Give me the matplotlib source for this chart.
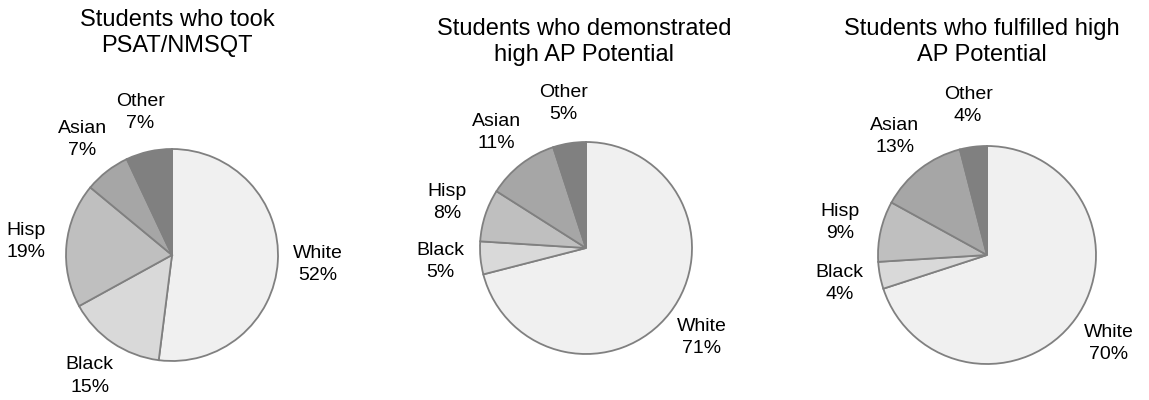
import matplotlib
matplotlib.use("Agg")
import matplotlib.pyplot as plt

plt.rcParams['font.family'] = ['Liberation Sans', 'DejaVu Sans']

categories = ["White", "Black", "Hisp", "Asian", "Other"]
psat = [52, 15, 19, 7, 7]
demonstrated = [71, 5, 8, 11, 5]
fulfilled = [70, 4, 9, 13, 4]
titles = ["Students who took\nPSAT/NMSQT",
          "Students who demonstrated\nhigh AP Potential",
          "Students who fulfilled high\nAP Potential"]
colors = ["#f0f0f0", "#d9d9d9", "#bfbfbf", "#a6a6a6", "#808080"]

W, H = 1149, 400
fig = plt.figure(figsize=(W / 100, H / 100), dpi=100)

# pixel geometry: (center x, center y from top, radius), title center x, title y from top
layout = [((172, 255, 106), (177, 33)),
          ((586, 248, 106), (584, 42)),
          ((987, 255, 109), (982, 42))]

for data, title, ((cx, cy, r), (tx, ty)) in zip([psat, demonstrated, fulfilled], titles, layout):
    ax = fig.add_axes([(cx - r) / W, (H - cy - r) / H, 2 * r / W, 2 * r / H])
    labels = [f"{c}\n{v}%" for c, v in zip(categories, data)]
    wedges, texts = ax.pie(data, labels=labels, colors=colors, startangle=90,
                           counterclock=False, labeldistance=1.38,
                           wedgeprops=dict(edgecolor="#808080", linewidth=1.3),
                           textprops=dict(fontsize=14, color="black", linespacing=1.4))
    for w in wedges:
        w.set_clip_on(False)
    for t in texts:
        t.set_ha("center")
        t.set_va("center")
    ax.set_xlim(-1, 1)
    ax.set_ylim(-1, 1)
    ax.set_aspect("equal")
    ax.axis("off")
    fig.text(tx / W, 1 - ty / H, title, ha="center", va="center",
             fontsize=17, linespacing=1.25, color="black")

fig.savefig("out.png", dpi=100, facecolor="white")
